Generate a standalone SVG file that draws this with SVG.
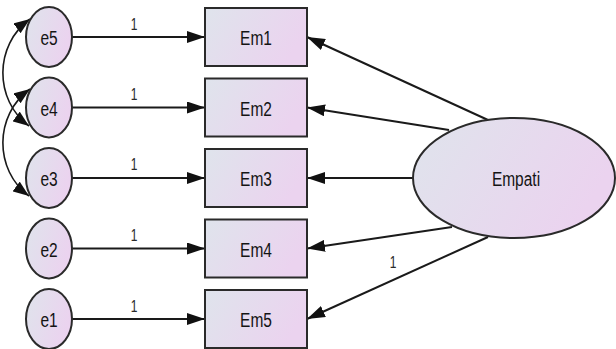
<svg xmlns="http://www.w3.org/2000/svg" width="616" height="349" viewBox="0 0 616 349">
  <defs>
    <linearGradient id="fillGrad" x1="0" y1="0" x2="1" y2="0.35">
      <stop offset="0" stop-color="#dfe4ec"/>
      <stop offset="1" stop-color="#ebd3ef"/>
    </linearGradient>
    <marker id="arrow" markerUnits="userSpaceOnUse" markerWidth="18" markerHeight="12" refX="18" refY="6" orient="auto-start-reverse" viewBox="0 0 18 12">
      <path d="M0,0 L18,6 L0,12 z" fill="#111"/>
    </marker>
    <marker id="arrowSmall" markerUnits="userSpaceOnUse" markerWidth="16" markerHeight="12" refX="16" refY="6" orient="auto-start-reverse" viewBox="0 0 16 12">
      <path d="M0,0 L16,6 L0,12 z" fill="#111"/>
    </marker>
  </defs>
  <style>
    .shape { fill: url(#fillGrad); stroke: #2a2a2a; stroke-width: 2; }
    .edge { fill: none; stroke: #1a1a1a; stroke-width: 2; marker-end: url(#arrow); }
    .cov { fill: none; stroke: #1a1a1a; stroke-width: 1.6; marker-start: url(#arrowSmall); marker-end: url(#arrowSmall); }
    .lbl { font-family: "Liberation Sans", Arial, sans-serif; font-size: 15.5px; fill: #141414; text-anchor: middle; }
    .w { font-family: "Liberation Sans", Arial, sans-serif; font-size: 12px; fill: #2a2a2a; text-anchor: middle; }
  </style>

  <!-- connectors -->
  <g id="connectors">
    <!-- error terms to indicators -->
    <line class="edge" x1="72" y1="37" x2="205" y2="37"/>
    <line class="edge" x1="72" y1="107.5" x2="205" y2="107.5"/>
    <line class="edge" x1="72" y1="178" x2="205" y2="178"/>
    <line class="edge" x1="72" y1="248.5" x2="205" y2="248.5"/>
    <line class="edge" x1="72" y1="319" x2="205" y2="319"/>
    <!-- latent factor to indicators -->
    <line class="edge" x1="488" y1="120" x2="307" y2="37"/>
    <line class="edge" x1="449" y1="130" x2="307" y2="107.5"/>
    <line class="edge" x1="413" y1="178" x2="307" y2="178"/>
    <line class="edge" x1="452" y1="227" x2="307" y2="248.5"/>
    <line class="edge" x1="488" y1="237" x2="307" y2="319"/>
    <!-- error covariances -->
    <path class="cov" d="M30,19 C-6,45 -6,100 29,126"/>
    <path class="cov" d="M30,89 C-6,115 -6,170 29,196"/>
    <!-- fixed weights -->
    <text class="w" transform="translate(134,30) scale(1,1.3)">1</text>
    <text class="w" transform="translate(134,100) scale(1,1.3)">1</text>
    <text class="w" transform="translate(134,170) scale(1,1.3)">1</text>
    <text class="w" transform="translate(134,241) scale(1,1.3)">1</text>
    <text class="w" transform="translate(134,312) scale(1,1.3)">1</text>
    <text class="w" transform="translate(393,268) scale(1,1.3)">1</text>
  </g>

  <!-- error terms -->
  <g id="e5">
    <ellipse class="shape" cx="49" cy="37" rx="23" ry="30"/>
    <text class="lbl" transform="translate(49,45) scale(1,1.3)">e5</text>
  </g>
  <g id="e4">
    <ellipse class="shape" cx="49" cy="107.5" rx="23" ry="30"/>
    <text class="lbl" transform="translate(49,115.5) scale(1,1.3)">e4</text>
  </g>
  <g id="e3">
    <ellipse class="shape" cx="49" cy="178" rx="23" ry="30"/>
    <text class="lbl" transform="translate(49,186) scale(1,1.3)">e3</text>
  </g>
  <g id="e2">
    <ellipse class="shape" cx="49" cy="248.5" rx="23" ry="30"/>
    <text class="lbl" transform="translate(49,256.5) scale(1,1.3)">e2</text>
  </g>
  <g id="e1">
    <ellipse class="shape" cx="49" cy="319" rx="23" ry="30"/>
    <text class="lbl" transform="translate(49,327) scale(1,1.3)">e1</text>
  </g>

  <!-- observed indicators -->
  <g id="Em1">
    <rect class="shape" x="205" y="8" width="102" height="58"/>
    <text class="lbl" transform="translate(256,45) scale(1,1.3)">Em1</text>
  </g>
  <g id="Em2">
    <rect class="shape" x="205" y="78.5" width="102" height="58"/>
    <text class="lbl" transform="translate(256,115.5) scale(1,1.3)">Em2</text>
  </g>
  <g id="Em3">
    <rect class="shape" x="205" y="149" width="102" height="58"/>
    <text class="lbl" transform="translate(256,186) scale(1,1.3)">Em3</text>
  </g>
  <g id="Em4">
    <rect class="shape" x="205" y="219.5" width="102" height="58"/>
    <text class="lbl" transform="translate(256,256.5) scale(1,1.3)">Em4</text>
  </g>
  <g id="Em5">
    <rect class="shape" x="205" y="290" width="102" height="58"/>
    <text class="lbl" transform="translate(256,327) scale(1,1.3)">Em5</text>
  </g>

  <!-- latent factor -->
  <g id="Empati">
    <ellipse class="shape" cx="514" cy="178" rx="101" ry="60"/>
    <text class="lbl" transform="translate(516,186) scale(1,1.3)">Empati</text>
  </g>
</svg>
